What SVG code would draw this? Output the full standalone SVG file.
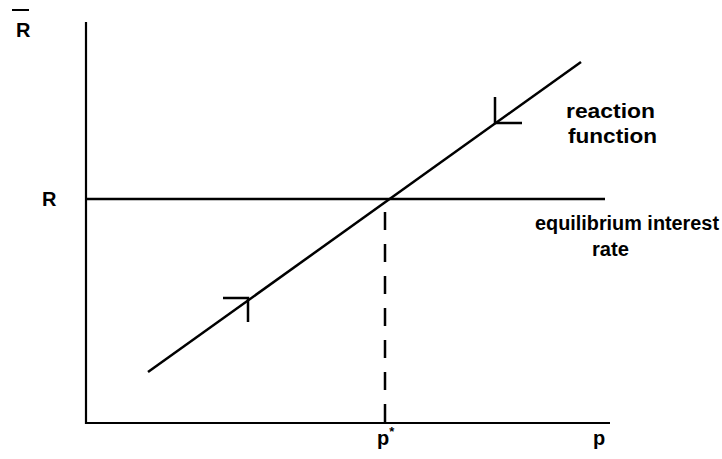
<svg xmlns="http://www.w3.org/2000/svg" width="722" height="459" viewBox="0 0 722 459">
<style>
.ln{stroke:#000;stroke-width:2.5;fill:none;stroke-linecap:butt}
.ax{stroke:#000;stroke-width:2.2;fill:none}
.t{font-family:"Liberation Sans",Arial,sans-serif;font-weight:bold;font-size:20px;fill:#000}
</style>
<rect width="722" height="459" fill="#fff"/>
<g id="axes">
<line class="ax" x1="86" y1="22" x2="86" y2="424"/>
<line class="ax" x1="85" y1="423" x2="610" y2="423"/>
</g>
<g id="connectors">
<line id="equilibrium-line" class="ln" x1="86" y1="199" x2="605" y2="199"/>
<line id="reaction-line" class="ln" x1="148" y1="372" x2="581" y2="62"/>
<line id="p-star-dash" class="ln" x1="385" y1="212" x2="385" y2="423" stroke-dasharray="18 14"/>
<path id="arrow-upper" class="ln" d="M495,97 L495,123 L522,123"/>
<path id="arrow-lower" class="ln" d="M223,298 L248,298 L248,322"/>
</g>
<g id="label-Rbar">
<line x1="12" y1="10" x2="29" y2="10" stroke="#000" stroke-width="2"/>
<text class="t" x="16" y="37">R</text>
</g>
<g id="label-R"><text class="t" x="42" y="206">R</text></g>
<g id="label-reaction">
<text class="t" x="566" y="118" textLength="89" lengthAdjust="spacingAndGlyphs">reaction</text>
<text class="t" x="568" y="143" textLength="89" lengthAdjust="spacingAndGlyphs">function</text>
</g>
<g id="label-equilibrium">
<text class="t" x="535" y="230" textLength="184" lengthAdjust="spacingAndGlyphs">equilibrium interest</text>
<text class="t" x="592" y="256" textLength="37" lengthAdjust="spacingAndGlyphs">rate</text>
</g>
<g id="label-pstar"><text class="t" x="377" y="445">p<tspan font-size="13" dy="-9">*</tspan></text></g>
<g id="label-p"><text class="t" x="593" y="445">p</text></g>
</svg>
